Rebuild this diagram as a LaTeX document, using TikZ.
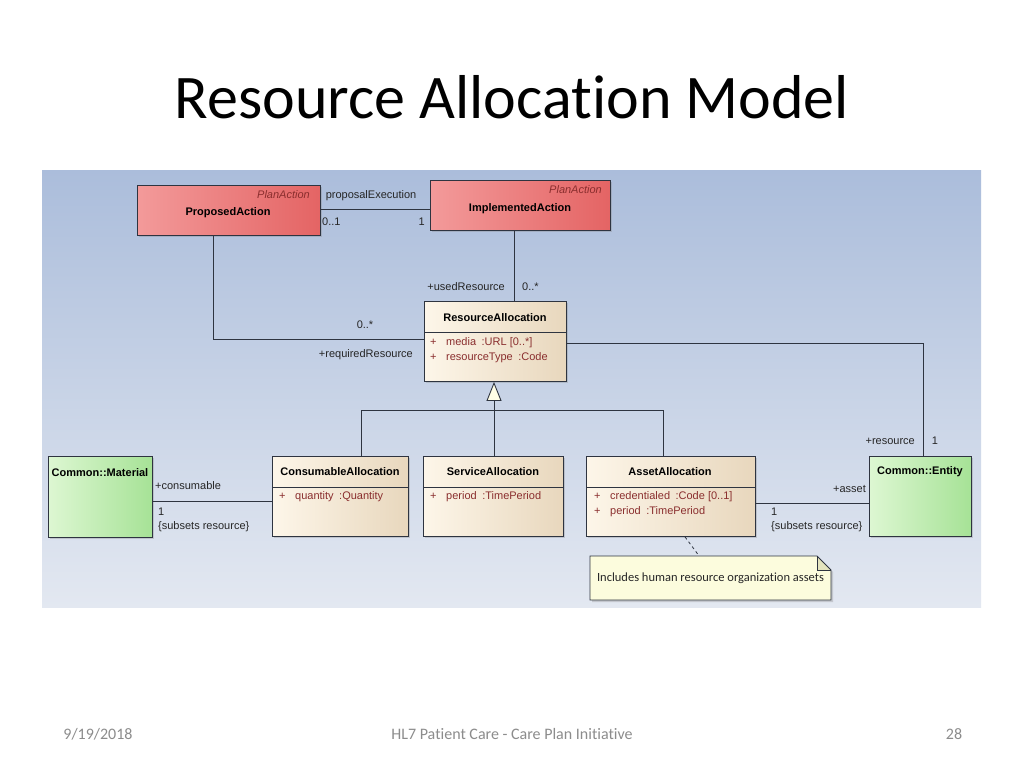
\documentclass[tikz,border=0pt]{standalone}
\usepackage{fontspec}
\setmainfont{Liberation Sans}
\newfontfamily\slidefont[Ligatures=NoCommon]{Carlito}
\usetikzlibrary{arrows.meta,shadows}

\definecolor{panelTop}{HTML}{ABBDDB}
\definecolor{panelBot}{HTML}{E3E8F1}
\definecolor{clsL}{HTML}{FDF6E9}
\definecolor{clsR}{HTML}{E8D7BD}
\definecolor{actL}{HTML}{F39A9A}
\definecolor{actR}{HTML}{E46464}
\definecolor{extL}{HTML}{DDF7D2}
\definecolor{extR}{HTML}{A6E296}
\definecolor{attrRed}{HTML}{8A2E2E}
\definecolor{lineGray}{HTML}{2E3440}
\definecolor{noteFill}{HTML}{FCFCDD}
\definecolor{noteFold}{HTML}{E4E4BE}
\definecolor{footGray}{HTML}{8C8C8C}

\tikzset{
  box/.style={draw=lineGray, line width=0.9pt, anchor=north west, inner sep=0pt,
    drop shadow={shadow xshift=2pt, shadow yshift=-2pt, opacity=0.3}},
  clsbox/.style={box, left color=clsL, right color=clsR},
  actbox/.style={box, left color=actL, right color=actR},
  extbox/.style={box, left color=extL, right color=extR},
  cname/.style={font=\fontsize{11}{13}\selectfont\bfseries, inner sep=0pt},
  stereo/.style={font=\fontsize{11}{13}\selectfont\itshape, text=attrRed, inner sep=0pt, anchor=east},
  attr/.style={font=\fontsize{11}{13}\selectfont, text=attrRed, inner sep=0pt, anchor=west},
  lbl/.style={font=\fontsize{11}{13}\selectfont, text=black!85, inner sep=0pt},
  link/.style={draw=lineGray, line width=0.9pt},
  foot/.style={font=\slidefont\fontsize{16}{18}\selectfont, text=footGray, inner sep=0pt, anchor=base},
}
\newcommand{\pl}{\makebox[16pt][l]{+}}

\begin{document}
\begin{tikzpicture}[x=1pt,y=-1pt]
	\useasboundingbox (0,0) rectangle (1024,768);
	\fill[white] (0,0) rectangle (1024,768);
	%title
	\node[font=\slidefont\fontsize{62}{70}\selectfont, anchor=base, inner sep=0pt] (title) at (512,118) {Resource Allocation Model};
	%diagram background
	\fill[top color=panelTop, bottom color=panelBot] (42,170) rectangle (981,607);
	%plan actions
	\node[actbox, minimum width=183pt, minimum height=50pt] (prop) at (137,185) {};
	\node[stereo] (propSt) at (310,195) {PlanAction};
	\node[cname] (propNm) at (228,213) {ProposedAction};
	\node[actbox, minimum width=180pt, minimum height=50pt] (impl) at (430,180) {};
	\node[stereo] (implSt) at (602,190) {PlanAction};
	\node[cname] (implNm) at (520,209) {ImplementedAction};
	%resource allocation
	\node[clsbox, minimum width=142pt, minimum height=80pt] (res) at (424,301) {};
	\node[cname] (resNm) at (495,318) {ResourceAllocation};
	\draw[link] ([yshift=-31pt]res.north west) -- ([yshift=-31pt]res.north east);
	\node[attr] (resA1) at (430,343) {\pl media\enspace:URL [0..*]};
	\node[attr] (resA2) at (430,358) {\pl resourceType\enspace:Code};
	%sub classes
	\node[clsbox, minimum width=136pt, minimum height=80pt] (cons) at (272,456) {};
	\node[cname] (consNm) at (340,472) {ConsumableAllocation};
	\draw[link] ([yshift=-31pt]cons.north west) -- ([yshift=-31pt]cons.north east);
	\node[attr] (consA1) at (279,497) {\pl quantity\enspace:Quantity};
	\node[clsbox, minimum width=140pt, minimum height=80pt] (serv) at (423,456) {};
	\node[cname] (servNm) at (493,472) {ServiceAllocation};
	\draw[link] ([yshift=-31pt]serv.north west) -- ([yshift=-31pt]serv.north east);
	\node[attr] (servA1) at (430,497) {\pl period\enspace:TimePeriod};
	\node[clsbox, minimum width=169pt, minimum height=80pt] (asset) at (586,456) {};
	\node[cname] (assetNm) at (670,472) {AssetAllocation};
	\draw[link] ([yshift=-31pt]asset.north west) -- ([yshift=-31pt]asset.north east);
	\node[attr] (assetA1) at (594,497) {\pl credentialed\enspace:Code [0..1]};
	\node[attr] (assetA2) at (594,512) {\pl period\enspace:TimePeriod};
	%common classes
	\node[extbox, minimum width=104pt, minimum height=81pt] (mat) at (48,456) {};
	\node[cname] (matNm) at (100,473) {Common::Material};
	\node[extbox, minimum width=102pt, minimum height=80pt] (ent) at (869,456) {};
	\node[cname] (entNm) at (920,472) {Common::Entity};
	%note
	\coordinate (nNW) at (590,556);
	\coordinate (nSE) at (831,600);
	\fill[noteFill, drop shadow={shadow xshift=2pt, shadow yshift=-2pt, opacity=0.3}] (nNW) -- (817,556) -- (831,570) -- (nSE) -- (590,600) -- cycle;
	\fill[noteFold] (817,556) -- (817,570) -- (831,570) -- cycle;
	\draw[link, line width=0.8pt] (nNW) -- (817,556) -- (831,570) -- (nSE) -- (590,600) -- cycle;
	\draw[link, line width=0.6pt] (817,556) -- (817,570) -- (831,570);
	\node[lbl, font=\slidefont\fontsize{12.5}{14}\selectfont, minimum width=241pt, minimum height=44pt] (note) at (710.5,578) {Includes human resource organization assets};
	\draw[link, dashed, line width=0.8pt] (asset.south -| 685,0) -- (note.north -| 699,0);
	%links
	\draw[link] (prop.east |- 0,209) -- (impl.west |- 0,209);
	\node[lbl] (lPE) at (371,196) {proposalExecution};
	\node[lbl, anchor=west] (lPE1) at (322,222) {0..1};
	\node[lbl, anchor=east] (lPE2) at (425,222) {1};
	\draw[link] ([xshift=19pt]res.north) -- ([xshift=19pt]res.north |- impl.south);
	\node[lbl, anchor=east] (lUsed) at (505,287) {+usedResource};
	\node[lbl, anchor=west] (lUsedM) at (522,287) {0..*};
	\draw[link] ([xshift=-15.5pt]prop.south) |- (res.west |- 0,339);
	\node[lbl] (lReqM) at (365,325) {0..*};
	\node[lbl, anchor=east] (lReq) at (413,355) {+requiredResource};
	\draw[link] (res.east |- 0,343) -| ([xshift=3pt]ent.north);
	\node[lbl, anchor=east] (lRes) at (915,441) {+resource};
	\node[lbl] (lResM) at (935,441) {1};
	\draw[link] (mat.east |- 0,501) -- (cons.west |- 0,501);
	\node[lbl, anchor=west] (lCons) at (155,486) {+consumable};
	\node[lbl, anchor=west] (lConsM) at (158,512) {1};
	\node[lbl, anchor=west] (lConsS) at (158,527) {\{subsets resource\}};
	\draw[link] (asset.east |- 0,503) -- (ent.west |- 0,503);
	\node[lbl, anchor=east] (lAsset) at (866,489) {+asset};
	\node[lbl, anchor=west] (lAssetM) at (771,512) {1};
	\node[lbl, anchor=west] (lAssetS) at (771,527) {\{subsets resource\}};
	%generalization
	\coordinate (gen) at (494,410.6);
	\draw[link, -{Triangle[length=19pt, width=15pt, fill=white!90!yellow]}] (serv.north -| gen) -- (res.south -| gen);
	\draw[link] ([xshift=21pt]cons.north) |- (gen);
	\draw[link] (gen) -| ([xshift=-7.5pt]asset.north);
	%footer
	\node[foot] (fDate) at (98,739) {9/19/2018};
	\node[foot] (fText) at (512,739) {HL7 Patient Care - Care Plan Initiative};
	\node[foot] (fPage) at (954,739) {28};
\end{tikzpicture}
\end{document}
